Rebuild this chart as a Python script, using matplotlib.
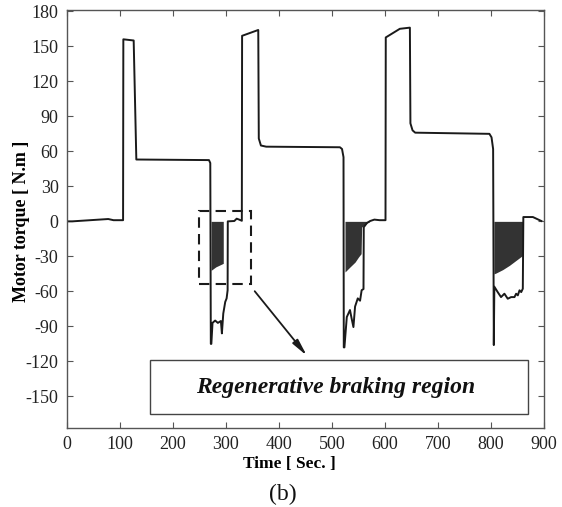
import matplotlib
matplotlib.use('Agg')
import matplotlib.pyplot as plt
import matplotlib.patches as patches

plt.rcParams['axes.unicode_minus'] = False

# Motor torque over the drive cycle (time in s, torque in N.m)
time_s = [0, 10, 78, 88, 106, 106.5, 126, 131, 268, 270.5, 271.5, 272.5, 274.7,
          279.7, 284.8, 290.5, 292.4, 295, 298.7, 301.3, 303.2, 303.5, 315.8,
          320.3, 325, 330, 330.5, 361, 362, 366, 376, 515, 519, 521.8, 522.3,
          523.5, 528, 534, 537, 540.5, 543.6, 548.7, 553, 556, 559.5, 560,
          566, 572, 580, 590, 601, 601.5, 628, 647, 648, 652, 657, 797, 801,
          804, 805.3, 806.3, 812.6, 818.9, 825.3, 831.6, 837.9, 844.3, 847.4,
          850.6, 853.8, 857, 860, 861, 879, 895]
torque_nm = [0, 0, 2, 1, 1, 156, 155, 53, 52.5, 50, -105, -105, -87,
             -85, -87, -85.4, -96, -79, -69, -66, -59, 0, 0.3,
             2.3, 1.5, 0.5, 159, 164, 71, 65, 64, 63.5, 62, 55, -108,
             -108, -82, -76, -83, -90.6, -73, -66, -68, -59, -58, -5,
             -1.4, 0.3, 1.5, 1, 1, 157.6, 165, 166, 84, 78, 76, 75, 72,
             62, -106, -56, -60.6, -64.9, -62, -66.3, -64.9, -64.9, -62,
             -63.4, -59.1, -60.6, -57.7, 3.7, 3.7, 0.3]

# Recovered (regenerative) torque envelopes, shaded down from zero
regen1_t = [272, 281, 288, 295]
regen1_low = [-42, -39, -37.5, -36]
regen2_t = [524.6, 534, 543.6, 550, 555, 556, 565.8, 572]
regen2_low = [-43.4, -39.1, -34.9, -30.6, -27.7, -4.9, -1.4, 0]
regen3_t = [805.5, 809.4, 822, 834.8, 847.4, 860]
regen3_low = [-45, -44.3, -41.4, -37.7, -33.4, -29.1]

x_ticks = list(range(0, 901, 100))
y_ticks = list(range(-150, 181, 30))

serif = ['Liberation Serif', 'DejaVu Serif']

fig = plt.figure(figsize=(5.62, 5.07), dpi=100)
ax = fig.add_axes([0.119, 0.156, 0.849, 0.824])

for t, low in [(regen1_t, regen1_low), (regen2_t, regen2_low), (regen3_t, regen3_low)]:
    ax.fill_between(t, low, 0, color='#333333', linewidth=0)

ax.plot(time_s, torque_nm, color='#1a1a1a', linewidth=1.4)

# dashed box around the first braking event
ax.add_patch(patches.Rectangle((249, -54), 98, 62.6, fill=False,
                               edgecolor='#1a1a1a', linewidth=1.5,
                               linestyle=(0, (5, 3))))

ax.annotate('', xy=(456, -117), xytext=(351, -58),
            arrowprops=dict(arrowstyle='-|>,head_length=1.0,head_width=0.2',
                            color='#1a1a1a', linewidth=1.3))

ax.add_patch(patches.Rectangle((156, -165.4), 713.6, 46.3, fill=True,
                               facecolor='white', edgecolor='#444444',
                               linewidth=1.0, zorder=3))
ax.text(507, -142, 'Regenerative braking region', family=serif,
        fontsize=17, fontweight='bold', fontstyle='italic',
        ha='center', va='center', color='#111111', zorder=4)

ax.set_xlim(0, 900)
ax.set_ylim(-177, 181)
ax.set_xticks(x_ticks)
ax.set_yticks(y_ticks)
ax.tick_params(direction='in', top=True, right=True, length=4, pad=6,
               labelsize=13, colors='#555555', labelcolor='#222222')
for lab in ax.get_xticklabels() + ax.get_yticklabels():
    lab.set_family(serif)
for sp in ax.spines.values():
    sp.set_color('#555555')
    sp.set_linewidth(1.0)

ax.set_xlabel('Time [ Sec. ]', family=serif, fontsize=12.5, fontweight='bold')
ax.set_ylabel('Motor torque [ N.m ]', family=serif, fontsize=13, fontweight='bold')
ax.xaxis.set_label_coords(0.467, -0.068)
ax.yaxis.set_label_coords(-0.078, 0.495)

fig.text(0.503, 0.024, '(b)', family=serif, fontsize=17, ha='center',
         va='center', color='#111111')

fig.savefig('out.png', dpi=100)
